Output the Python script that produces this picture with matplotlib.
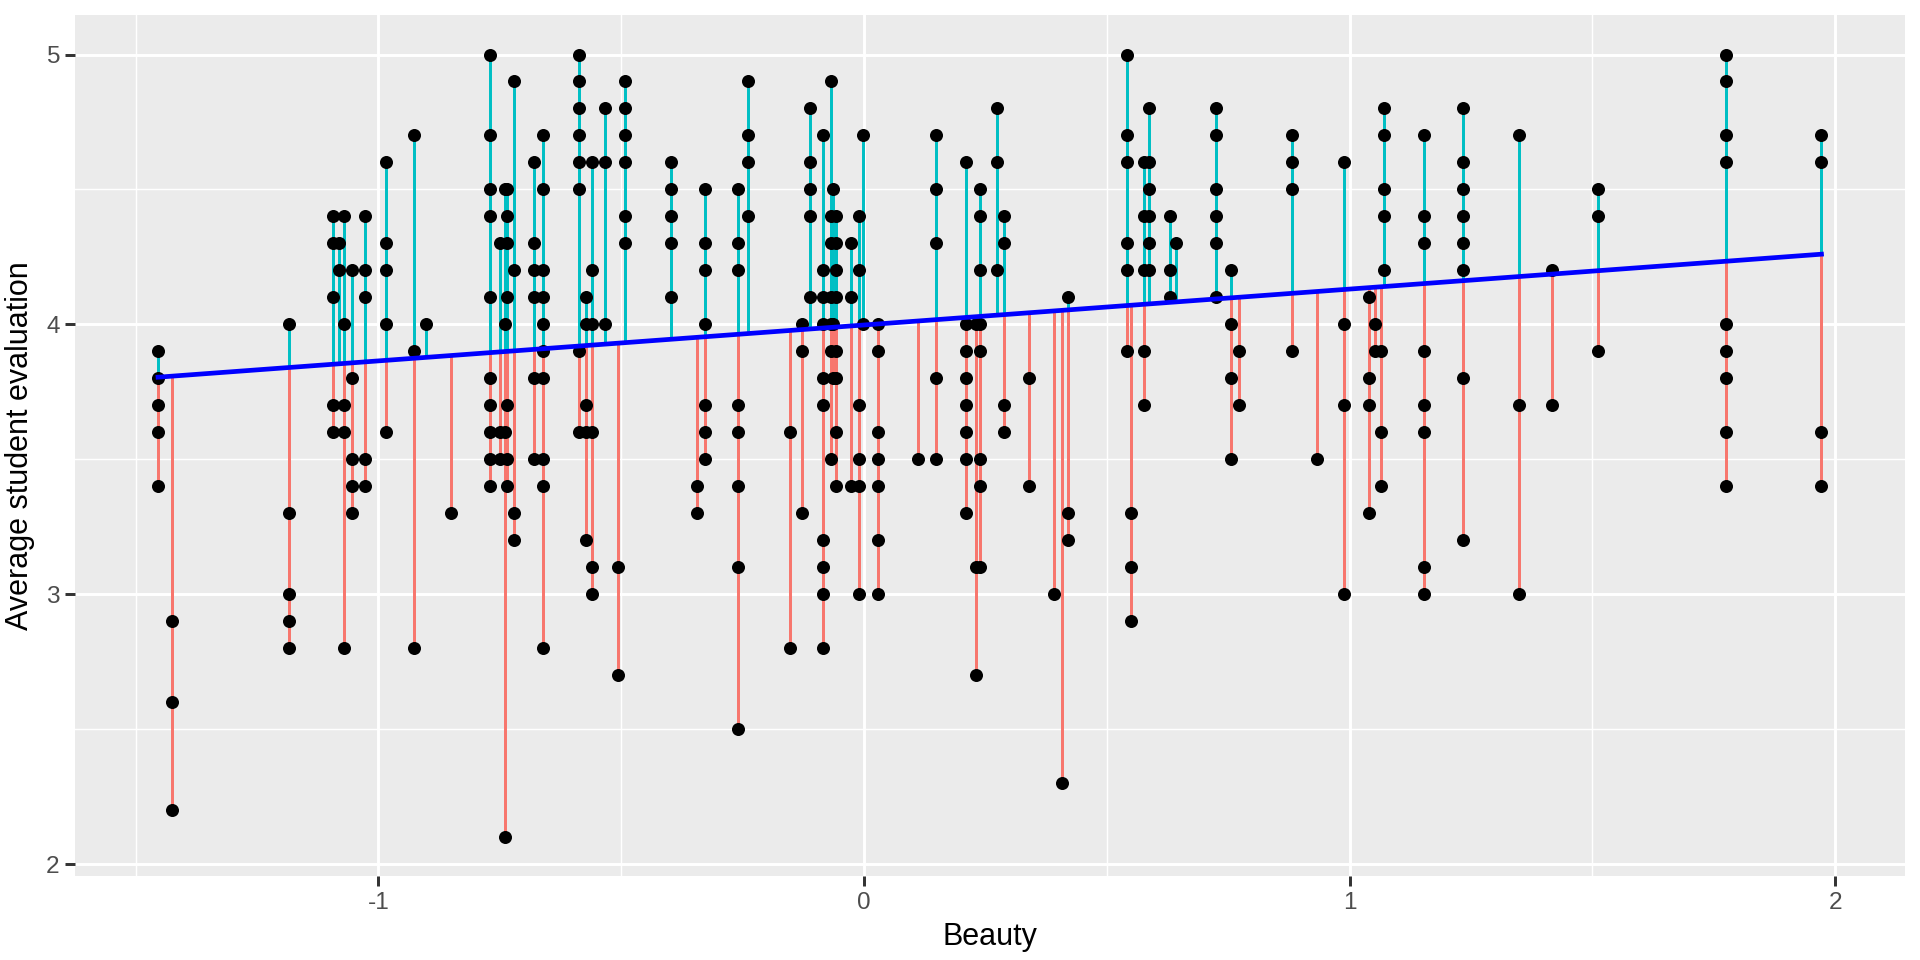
import matplotlib
matplotlib.use("Agg")
import matplotlib.pyplot as plt
import numpy as np

# Beauty score of each instructor column, with the evaluations seen at that score.
col_beauty = [-1.454, -1.426, -1.185, -1.093, -1.082, -1.071, -1.054, -1.028, -0.985, -0.927,
              -0.903, -0.851, -0.770, -0.750, -0.740, -0.735, -0.720, -0.680, -0.661, -0.587,
              -0.572, -0.560, -0.534, -0.506, -0.492, -0.397, -0.343, -0.327, -0.260, -0.239,
              -0.153, -0.127, -0.111, -0.085, -0.069, -0.063, -0.057, -0.027, -0.011, -0.003,
              0.028, 0.112, 0.149, 0.211, 0.230, 0.239, 0.274, 0.289, 0.339, 0.391,
              0.407, 0.420, 0.541, 0.550, 0.576, 0.588, 0.631, 0.643, 0.724, 0.756,
              0.773, 0.881, 0.933, 0.989, 1.041, 1.052, 1.064, 1.071, 1.154, 1.233,
              1.350, 1.416, 1.511, 1.775, 1.972]
col_evals = [
    [3.9, 3.8, 3.7, 3.6, 3.4], [2.9, 2.6, 2.2], [4.0, 3.3, 3.0, 2.9, 2.8],
    [4.4, 4.3, 4.1, 3.7, 3.6], [4.3, 4.2], [4.4, 4.0, 3.7, 3.6, 2.8],
    [4.2, 3.8, 3.5, 3.4, 3.3], [4.4, 4.2, 4.1, 3.5, 3.4], [4.6, 4.3, 4.2, 4.0, 3.6],
    [4.7, 3.9, 2.8], [4.0], [3.3],
    [5.0, 4.7, 4.5, 4.4, 4.1, 3.8, 3.7, 3.6, 3.5, 3.4], [4.3, 3.6, 3.5], [4.5, 4.0, 3.6, 2.1],
    [4.5, 4.4, 4.3, 4.1, 3.7, 3.5, 3.4], [4.9, 4.2, 3.3, 3.2], [4.6, 4.3, 4.2, 4.1, 3.8, 3.5],
    [4.7, 4.5, 4.2, 4.1, 4.0, 3.9, 3.8, 3.5, 3.4, 2.8], [5.0, 4.9, 4.8, 4.7, 4.6, 4.5, 3.9, 3.6],
    [4.1, 4.0, 3.7, 3.6, 3.2], [4.6, 4.2, 4.0, 3.6, 3.1, 3.0], [4.8, 4.6, 4.0], [3.1, 2.7],
    [4.9, 4.8, 4.7, 4.6, 4.4, 4.3], [4.6, 4.5, 4.4, 4.3, 4.1], [3.4, 3.3],
    [4.5, 4.3, 4.2, 4.0, 3.7, 3.6, 3.5], [4.5, 4.3, 4.2, 3.7, 3.6, 3.4, 3.1, 2.5],
    [4.9, 4.7, 4.6, 4.4], [3.6, 2.8], [4.0, 3.9, 3.3], [4.8, 4.6, 4.5, 4.4, 4.1],
    [4.7, 4.2, 4.1, 4.0, 3.8, 3.7, 3.2, 3.1, 3.0, 2.8], [4.9, 4.4, 4.3, 4.1, 4.0, 3.9, 3.5],
    [4.5, 4.0, 3.8], [4.4, 4.3, 4.2, 4.1, 3.9, 3.8, 3.6, 3.4], [4.3, 4.1, 3.4],
    [4.4, 4.2, 3.7, 3.5, 3.4, 3.0], [4.7, 4.0], [4.0, 3.9, 3.6, 3.5, 3.4, 3.2, 3.0], [3.5],
    [4.7, 4.5, 4.3, 3.8, 3.5], [4.6, 4.0, 3.9, 3.8, 3.7, 3.6, 3.5, 3.3], [4.0, 3.1, 2.7],
    [4.5, 4.4, 4.2, 4.0, 3.9, 3.5, 3.4, 3.1], [4.8, 4.6, 4.2], [4.4, 4.3, 3.7, 3.6],
    [3.8, 3.4], [3.0], [2.3], [4.1, 3.3, 3.2], [5.0, 4.7, 4.6, 4.3, 4.2, 3.9], [3.3, 3.1, 2.9],
    [4.6, 4.4, 4.2, 3.9, 3.7], [4.8, 4.6, 4.5, 4.4, 4.3, 4.2], [4.4, 4.2, 4.1], [4.3],
    [4.8, 4.7, 4.5, 4.4, 4.3, 4.1], [4.2, 4.0, 3.8, 3.5], [3.9, 3.7], [4.7, 4.6, 4.5, 3.9],
    [3.5], [4.6, 4.0, 3.7, 3.0], [4.1, 3.8, 3.7, 3.3], [4.0, 3.9], [3.9, 3.6, 3.4],
    [4.8, 4.7, 4.5, 4.4, 4.2], [4.7, 4.4, 4.3, 3.9, 3.7, 3.6, 3.1, 3.0],
    [4.8, 4.6, 4.5, 4.4, 4.3, 4.2, 3.8, 3.2], [4.7, 3.7, 3.0], [4.2, 3.7], [4.5, 4.4, 3.9],
    [5.0, 4.9, 4.7, 4.6, 4.0, 3.9, 3.8, 3.6, 3.4], [4.7, 4.6, 3.6, 3.4],
]

# Fitted line: eval = intercept + slope * beauty
fit_intercept = 3.998
fit_slope = 0.133

x_ticks = [-1, 0, 1, 2]
y_ticks = [2, 3, 4, 5]

beauty = np.array([b for b, ev in zip(col_beauty, col_evals) for _ in ev])
evals = np.array([e for ev in col_evals for e in ev])
fitted = fit_intercept + fit_slope * beauty

plt.rcParams["font.family"] = ["Liberation Sans", "DejaVu Sans"]
fig, ax = plt.subplots(figsize=(9.6, 4.8), dpi=200)
fig.subplots_adjust(left=0.039, right=0.992, top=0.984, bottom=0.087)

ax.set_facecolor("#EBEBEB")
for s in ax.spines.values():
    s.set_visible(False)

# Residual segments, coloured by sign
pos = evals > fitted
ax.vlines(beauty[~pos], evals[~pos], fitted[~pos], color="#F8766D", linewidth=1.07, zorder=2)
ax.vlines(beauty[pos], fitted[pos], evals[pos], color="#00BFC4", linewidth=1.07, zorder=2)

ax.scatter(beauty, evals, s=22, color="black", linewidths=0, zorder=3)

xs = np.array([beauty.min(), beauty.max()])
ax.plot(xs, fit_intercept + fit_slope * xs, color="blue", linewidth=1.7, zorder=4)

ax.margins(x=0.05, y=0.05)
ax.set_xticks(x_ticks)
ax.set_xticklabels([f"{t:g}" for t in x_ticks])
ax.set_yticks(y_ticks)
ax.set_xticks([-1.5, -0.5, 0.5, 1.5], minor=True)
ax.set_yticks([2.5, 3.5, 4.5], minor=True)
ax.grid(which="major", color="white", linewidth=1.07)
ax.grid(which="minor", color="white", linewidth=0.53)
ax.set_axisbelow(True)
ax.tick_params(which="major", length=3.5, width=1.07, color="#333333",
               labelcolor="#4D4D4D", labelsize=8.8, pad=2)
ax.tick_params(which="minor", length=0)

ax.set_xlabel("Beauty", fontsize=11, labelpad=3)
ax.set_ylabel("Average student evaluation", fontsize=11, labelpad=4)

fig.savefig("out.png", dpi=200)
